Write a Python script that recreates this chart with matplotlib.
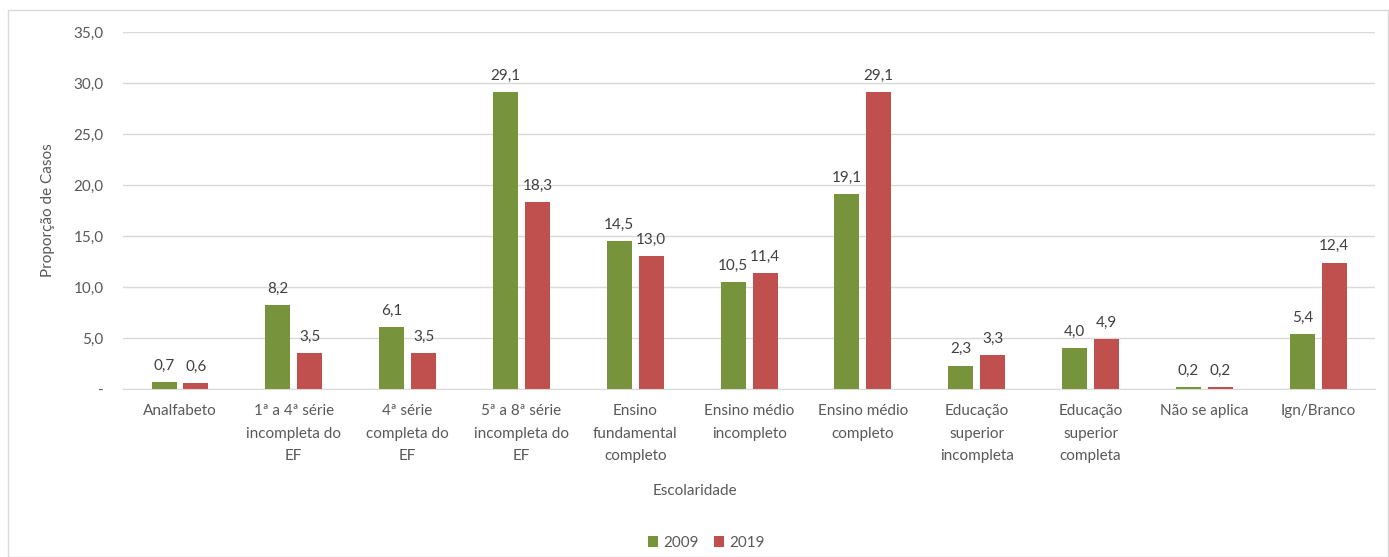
import numpy as np
import matplotlib.pyplot as plt
from matplotlib.patches import Rectangle

categorias = ["Analfabeto", "1ª a 4ª série\nincompleta do\nEF", "4ª série\ncompleta do\nEF",
              "5ª a 8ª série\nincompleta do\nEF", "Ensino\nfundamental\ncompleto",
              "Ensino médio\nincompleto", "Ensino médio\ncompleto", "Educação\nsuperior\nincompleta",
              "Educação\nsuperior\ncompleta", "Não se aplica", "Ign/Branco"]
v2009 = [0.7, 8.2, 6.1, 29.1, 14.5, 10.5, 19.1, 2.3, 4.0, 0.2, 5.4]
v2019 = [0.6, 3.5, 3.5, 18.3, 13.0, 11.4, 29.1, 3.3, 4.9, 0.2, 12.4]
yticks = [0, 5, 10, 15, 20, 25, 30, 35]

plt.rcParams['font.family'] = ['Lato', 'DejaVu Sans']
cinza = '#595959'
fs = 11

fig = plt.figure(figsize=(13.89, 5.57), dpi=100)
ax = fig.add_axes([0.0886, 0.3016, 0.9014, 0.6409])

# borda externa do grafico
fig.patches.append(Rectangle((8/1389, 0), 1 - 8/1389 - 0.001, 1 - 10/557, transform=fig.transFigure,
                             fill=False, edgecolor='#D9D9D9', linewidth=1))

x = np.arange(len(categorias))
w = 0.22
b1 = ax.bar(x - 0.14, v2009, w, color='#77933C', label='2009')
b2 = ax.bar(x + 0.14, v2019, w, color='#C0504D', label='2019')

for bars, vals in [(b1, v2009), (b2, v2019)]:
    for r, v in zip(bars, vals):
        ax.text(r.get_x() + r.get_width()/2, v + 0.9, f"{v:.1f}".replace('.', ','),
                ha='center', va='bottom', fontsize=fs, color='#404040')

ax.set_xlim(-0.5, len(categorias) - 0.5)
ax.set_ylim(0, 35)
ax.set_yticks(yticks)
ax.set_yticklabels(['-'] + [f"{t:.1f}".replace('.', ',') for t in yticks[1:]])
ax.set_xticks(x)
ax.set_xticklabels(categorias, linespacing=1.75)
ax.tick_params(axis='both', length=0, labelsize=fs, colors=cinza)
ax.tick_params(axis='y', pad=14)
ax.tick_params(axis='x', pad=11)
ax.grid(axis='y', color='#D9D9D9', linewidth=1)
ax.set_axisbelow(True)
for s in ['top', 'right', 'left']:
    ax.spines[s].set_visible(False)
ax.spines['bottom'].set_color('#D9D9D9')

ax.set_ylabel('Proporção de Casos', fontsize=fs, color=cinza, labelpad=13)
fig.text(0.5, 1 - 491/557, 'Escolaridade', ha='center', va='center', fontsize=fs, color=cinza)
fig.legend(handles=[b1, b2], loc='center', bbox_to_anchor=(706/1389, 1 - 543/557), ncol=2,
           frameon=False, fontsize=fs, labelcolor=cinza, handlelength=0.7, handleheight=0.7,
           handletextpad=0.3, columnspacing=1.0)

plt.savefig('out.png', dpi=100)
